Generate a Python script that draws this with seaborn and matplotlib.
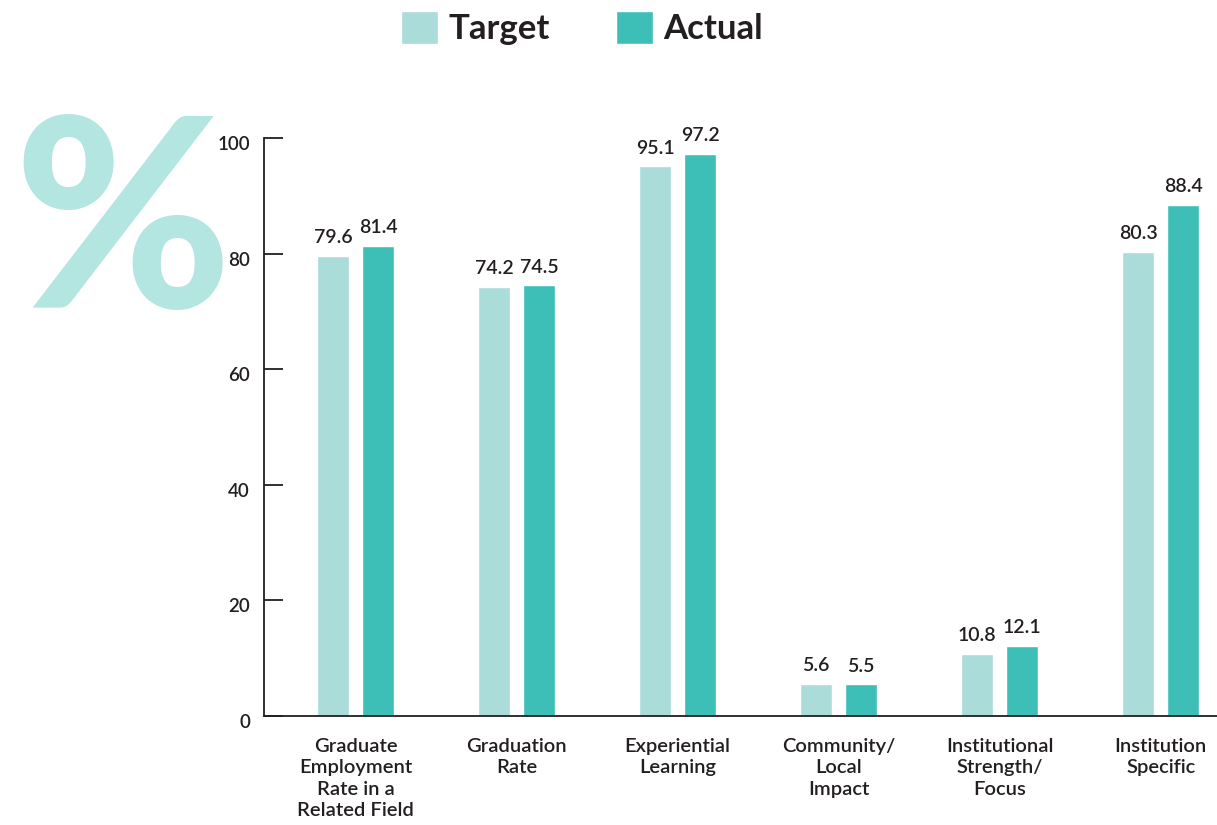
import pandas as pd
import matplotlib
matplotlib.use("Agg")
import matplotlib.pyplot as plt
import matplotlib.transforms as mtransforms
import seaborn as sns

# Chart data
categories = [
    "Graduate\nEmployment\nRate in a\nRelated Field",
    "Graduation\nRate",
    "Experiential\nLearning",
    "Community/\nLocal\nImpact",
    "Institutional\nStrength/\nFocus",
    "Institution\nSpecific",
]
target = [79.6, 74.2, 95.1, 5.6, 10.8, 80.3]
actual = [81.4, 74.5, 97.2, 5.5, 12.1, 88.4]
y_ticks = [0, 20, 40, 60, 80, 100]

df = pd.DataFrame({
    "category": categories * 2,
    "value": target + actual,
    "series": ["Target"] * len(target) + ["Actual"] * len(actual),
})

light = "#aadcd9"
dark = "#3dbfb8"
text_col = "#231f20"

sns.set_style("white")
plt.rcParams["font.family"] = ["Lato", "DejaVu Sans"]

fig = plt.figure(figsize=(12.17, 8.25), dpi=100)
ax = fig.add_axes([0.2169, 0.1321, 0.7831, 0.7006])

# big decorative percent sign (behind everything)
fig.text(0.101, 0.72, "%", fontsize=190, fontweight="black", color="#b3e5e1",
         ha="center", va="center", zorder=0)
ax.set_zorder(1)
ax.patch.set_alpha(0)

sns.barplot(data=df, x="category", y="value", hue="series",
            hue_order=["Target", "Actual"], palette=[light, dark],
            saturation=1, width=0.56, gap=0.29, ax=ax, legend=True)

for cont in ax.containers:
    ax.bar_label(cont, fmt="%.1f", padding=7, fontsize=14, color=text_col,
                 fontweight="semibold")

ax.set_ylim(0, 100)
ax.set_xlim(-0.57, 5.35)
ax.set_yticks(y_ticks)
ax.set_xlabel("")
ax.set_ylabel("")
ax.tick_params(axis="y", direction="in", length=14, width=1.3, color=text_col,
               labelsize=13.5, labelcolor=text_col, pad=10, left=True)
ax.tick_params(axis="x", length=0, labelsize=14.5, labelcolor=text_col, pad=16)
for lbl in ax.get_xticklabels():
    lbl.set_linespacing(1.3)
    lbl.set_fontweight("semibold")
shift = mtransforms.ScaledTranslation(0, -5 / 100, fig.dpi_scale_trans)
for lbl in ax.get_yticklabels():
    lbl.set_fontweight("semibold")
    lbl.set_transform(lbl.get_transform() + shift)

for side in ["top", "right"]:
    ax.spines[side].set_visible(False)
for side in ["left", "bottom"]:
    ax.spines[side].set_color(text_col)
    ax.spines[side].set_linewidth(1.3)

# legend at the top
handles, labels = ax.get_legend_handles_labels()
ax.legend(handles, labels, loc="center", bbox_to_anchor=(0.478, 0.966),
          bbox_transform=fig.transFigure, ncol=2, frameon=False,
          prop={"size": 25, "weight": "bold"}, handlelength=1.07,
          handleheight=1.07, handletextpad=0.3, columnspacing=1.9,
          labelcolor=text_col)

fig.savefig("out.png", dpi=100)
